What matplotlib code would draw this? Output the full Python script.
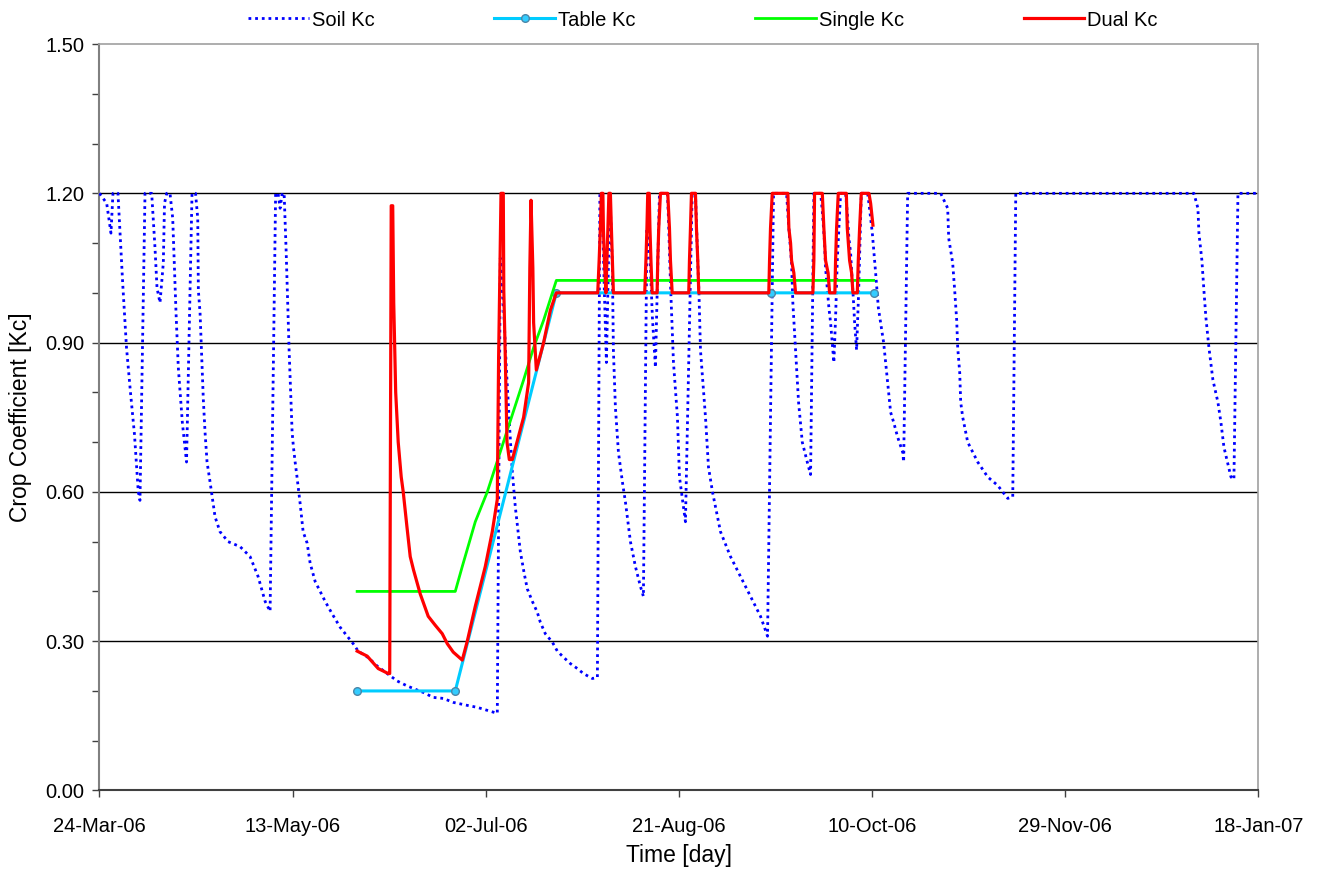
import numpy as np
import matplotlib
matplotlib.use("Agg")
import matplotlib.pyplot as plt
import matplotlib.dates as mdates
from matplotlib.ticker import MultipleLocator

plt.rcParams['font.family'] = ['Liberation Sans', 'DejaVu Sans']

start = mdates.date2num(np.datetime64('2006-03-24'))

# days since 24-Mar-06
soil_day = [0.0, 1.87, 2.98, 3.5, 4.79, 6.01, 7.0, 8.03, 9.07, 10.05, 10.49, 11.79,
            13.52, 14.38, 14.9, 15.67, 16.53, 16.84, 17.41, 18.26, 18.96, 19.3, 19.82,
            20.41, 21.45, 22.54, 23.06, 23.96, 24.87, 25.44, 25.6, 26.04, 26.48, 26.89,
            27.33, 27.85, 28.63, 29.92, 31.2, 33.3, 36.4, 38.99, 41.06, 42.88, 44.17,
            45.6, 46.24, 46.76, 47.3, 47.8, 48.32, 48.76, 49.09, 49.35, 49.61, 49.87,
            50.21, 50.65, 51.09, 51.94, 52.72, 53.76, 54.53, 55.83, 57.12, 58.42, 60.23,
            62.3, 64.12, 65.67, 66.97, 69.56, 71.89, 74.48, 77.07, 79.66, 83.81, 86.4,
            88.99, 91.58, 95.21, 97.8, 100.39, 102.98, 103.76, 104.53, 105.31, 106.09,
            106.87, 107.64, 108.94, 109.97, 110.75, 112.05, 113.34, 114.12, 115.41,
            117.23, 118.52, 120.08, 121.89, 123.7, 125.26, 127.59, 128.89, 129.53,
            130.05, 130.7, 131.22, 132.12, 132.77, 133.03, 133.55, 134.33, 135.36,
            136.14, 137.44, 138.73, 140.03, 140.8, 141.71, 142.62, 143.13, 143.91,
            144.95, 147.02, 147.28, 147.8, 148.58, 149.61, 150.13, 151.68, 153.42,
            154.27, 154.79, 155.18, 155.57, 156.87, 157.64, 158.68, 160.75, 163.34,
            165.93, 168.52, 171.11, 172.93, 174.48, 177.85, 178.44, 179.15, 179.48,
            180.18, 180.96, 181.92, 183.21, 184.07, 184.92, 186.66, 187.1, 187.69,
            187.95, 188.81, 189.25, 190.1, 190.54, 190.98, 191.84, 193.13, 193.57,
            193.99, 194.43, 194.87, 195.13, 195.47, 195.98, 196.5, 197.2, 198.83,
            199.17, 200.05, 200.91, 201.61, 202.98, 204.02, 204.79, 205.57, 206.61,
            207.9, 208.16, 209.2, 217.75, 219.56, 219.82, 220.85, 221.37, 221.89,
            222.15, 222.67, 222.93, 223.45, 224.74, 227.33, 229.92, 232.51, 235.1,
            236.4, 237.18, 283.29, 284.33, 284.59, 285.36, 285.88, 286.4, 287.18,
            288.21, 289.51, 290.28, 291.06, 292.88, 293.65, 294.69, 300.0]
soil_kc = [1.2, 1.18, 1.12, 1.2, 1.2, 1.02, 0.89, 0.80, 0.715, 0.60, 0.583, 1.2,
           1.2, 1.09, 1.01, 0.98, 1.06, 1.18, 1.2, 1.2, 1.15, 1.075, 0.96,
           0.85, 0.74, 0.66, 0.86, 1.2, 1.2, 1.15, 1.005, 0.96, 0.87, 0.785,
           0.72, 0.66, 0.62, 0.55, 0.52, 0.50, 0.49, 0.47, 0.43, 0.38, 0.36,
           1.2, 1.2, 1.17, 1.2, 1.2, 1.085, 0.97, 0.885, 0.83, 0.77, 0.72,
           0.69, 0.66, 0.633, 0.577, 0.52, 0.497, 0.457, 0.42, 0.40, 0.38, 0.355,
           0.328, 0.31, 0.295, 0.28, 0.267, 0.25, 0.235, 0.22, 0.21, 0.197, 0.187,
           0.185, 0.177, 0.171, 0.167, 0.161, 0.155, 1.07, 0.985, 0.85, 0.74,
           0.64, 0.57, 0.48, 0.435, 0.405, 0.38, 0.358, 0.338, 0.315,
           0.298, 0.28, 0.268, 0.255, 0.245, 0.235, 0.225, 0.227, 1.2,
           1.2, 1.0, 0.86, 1.2, 1.05, 0.885, 0.77, 0.68, 0.62,
           0.58, 0.50, 0.45, 0.41, 0.39, 1.13, 1.05, 0.95, 0.85,
           1.2, 1.2, 1.15, 1.02, 0.86, 0.75, 0.63, 0.54, 1.2,
           1.2, 1.08, 1.0, 0.885, 0.75, 0.65, 0.60, 0.52, 0.47,
           0.43, 0.39, 0.35, 0.31, 1.2, 1.2, 1.13, 1.06, 0.98,
           0.885, 0.78, 0.70, 0.66, 0.635, 1.2, 1.2, 1.165, 1.10,
           1.05, 0.97, 0.94, 0.86, 0.95, 1.065, 1.2, 1.2, 1.16,
           1.11, 1.08, 1.02, 0.99, 0.94, 0.885, 1.0, 1.2, 1.2,
           1.18, 1.12, 1.04, 0.97, 0.90, 0.82, 0.76, 0.74, 0.71,
           0.68, 0.66, 1.2, 1.2, 1.17, 1.11, 1.06, 1.005, 0.945,
           0.89, 0.84, 0.78, 0.75, 0.70, 0.66, 0.63, 0.613, 0.587,
           0.59, 1.2, 1.2, 1.17, 1.12, 1.065, 1.005, 0.95, 0.89,
           0.825, 0.78, 0.74, 0.69, 0.63, 0.625, 1.2, 1.2]

table_day = [66.7, 92.1, 118.26, 173.7, 200.4]
table_kc = [0.20, 0.20, 1.0, 1.0, 1.0]

single_day = [66.7, 92.1, 93.91, 97.28, 100.39, 109.79, 112.38, 114.97, 118.26, 200.4]
single_kc = [0.40, 0.40, 0.45, 0.54, 0.60, 0.825, 0.89, 0.945, 1.025, 1.025]

dual_day = [66.71, 69.3, 72.15, 74.74, 75.13, 75.52, 75.91, 76.17, 76.68, 77.33, 78.11,
            78.63, 79.59, 80.44, 81.3, 83.03, 85.1, 86.92, 88.73, 90.03, 91.58, 93.91,
            95.21, 97.28, 99.87, 101.68, 102.98, 103.32, 103.58, 103.94, 104.53,
            104.66, 105.05, 105.49, 106.09, 106.87, 109.79, 111.09, 111.4, 111.71,
            112.18, 112.38, 113.08, 114.97, 116.71, 118.26, 128.98, 129.34, 129.66,
            129.92, 130.31, 130.44, 130.7, 131.09, 131.35, 131.61, 131.87, 132.25,
            132.51, 132.77, 133.03, 141.14, 141.45, 141.71, 141.92, 142.31, 142.49,
            142.75, 143.06, 144.35, 144.51, 144.77, 145.21, 147.1, 147.54, 147.8,
            148.24, 152.54, 152.72, 152.98, 153.24, 154.27, 154.53, 154.87, 155.13,
            173.26, 173.45, 173.7, 174.15, 178.19, 178.45, 178.89, 179.15, 179.74,
            180.18, 184.66, 184.92, 185.1, 187.1, 187.51, 187.95, 188.6, 188.99,
            190.36, 190.54, 190.8, 191.24, 193.32, 193.57, 194.17, 194.69, 195.03,
            196.17, 196.42, 196.76, 197.2, 199.17, 199.61, 200.21]
dual_kc = [0.28, 0.27, 0.245, 0.235, 0.235, 1.175, 1.175, 0.98, 0.80, 0.70, 0.63,
           0.60, 0.53, 0.47, 0.443, 0.395, 0.35, 0.332, 0.315, 0.295, 0.278, 0.262,
           0.30, 0.37, 0.45, 0.52, 0.585, 0.87, 1.005, 1.2, 1.2,
           1.005, 0.87, 0.70, 0.665, 0.665, 0.75, 0.82, 1.05, 1.186,
           1.05, 0.94, 0.845, 0.90, 0.965, 1.0, 1.0, 1.065, 1.13,
           1.2, 1.2, 1.13, 1.065, 1.0, 1.065, 1.13, 1.2, 1.2,
           1.13, 1.065, 1.0, 1.0, 1.065, 1.13, 1.2, 1.2, 1.13,
           1.065, 1.0, 1.0, 1.065, 1.13, 1.2, 1.2, 1.13, 1.065,
           1.0, 1.0, 1.065, 1.13, 1.2, 1.2, 1.13, 1.065, 1.0,
           1.0, 1.065, 1.13, 1.2, 1.2, 1.13, 1.1, 1.065, 1.04,
           1.0, 1.0, 1.065, 1.2, 1.2, 1.13, 1.065, 1.04, 1.0,
           1.0, 1.065, 1.13, 1.2, 1.2, 1.13, 1.065, 1.04, 1.0,
           1.0, 1.065, 1.13, 1.2, 1.2, 1.18, 1.136]

tick_days = [0, 50, 100, 150, 200, 250, 300]

fig = plt.figure(figsize=(13.19, 8.72), dpi=100)
ax = fig.add_axes([0.0754, 0.0935, 0.8787, 0.856])

ax.plot(start + np.array(soil_day), soil_kc, color='#0000ff', lw=2.0,
        linestyle=(0, (1.0, 1.4)), label='Soil Kc', zorder=3)
ax.plot(start + np.array(table_day), table_kc, color='#00ccff', lw=2.2,
        marker='o', ms=5.5, mfc='#33ccff', mec='#4a86a8', mew=1,
        label='Table Kc', zorder=4)
ax.plot(start + np.array(single_day), single_kc, color='#00ff00', lw=2.0,
        label='Single Kc', zorder=5)
ax.plot(start + np.array(dual_day), dual_kc, color='#ff0000', lw=2.3,
        label='Dual Kc', zorder=6)

ax.set_xlim(start, start + 300)
ax.set_ylim(0, 1.5)
ax.set_xticks([start + d for d in tick_days])
ax.xaxis.set_major_formatter(mdates.DateFormatter('%d-%b-%y'))
ax.yaxis.set_major_locator(MultipleLocator(0.3))
ax.yaxis.set_minor_locator(MultipleLocator(0.1))
ax.yaxis.set_major_formatter(plt.FormatStrFormatter('%.2f'))

for v in [0.3, 0.6, 0.9, 1.2]:
    ax.axhline(v, color='black', lw=1.0, zorder=1)

ax.tick_params(axis='x', direction='out', length=5, width=1, color='#404040',
               pad=14, labelsize=14.5)
ax.tick_params(axis='y', which='major', direction='out', length=5, width=1,
               color='#404040', pad=6, labelsize=14.5)
ax.tick_params(axis='y', which='minor', direction='out', length=5, width=1,
               color='#404040')

ax.spines['left'].set_color('#808080')
ax.spines['left'].set_linewidth(1.5)
ax.spines['bottom'].set_color('#404040')
ax.spines['bottom'].set_linewidth(1.5)
for s in ['top', 'right']:
    ax.spines[s].set_color('#a0a0a0')
    ax.spines[s].set_linewidth(1.2)

ax.set_xlabel('Time [day]', fontsize=16.5)
ax.xaxis.set_label_coords(0.5, -0.072)
ax.set_ylabel('Crop Coefficient [Kc]', fontsize=16.5)
ax.yaxis.set_label_coords(-0.058, 0.5)

fig.legend(loc='center', bbox_to_anchor=(703 / 1319, 1 - 20 / 872), ncol=4,
           frameon=False, fontsize=14.5, handlelength=3.0, handletextpad=0.15,
           columnspacing=5.95)

fig.savefig('out.png', dpi=100)
